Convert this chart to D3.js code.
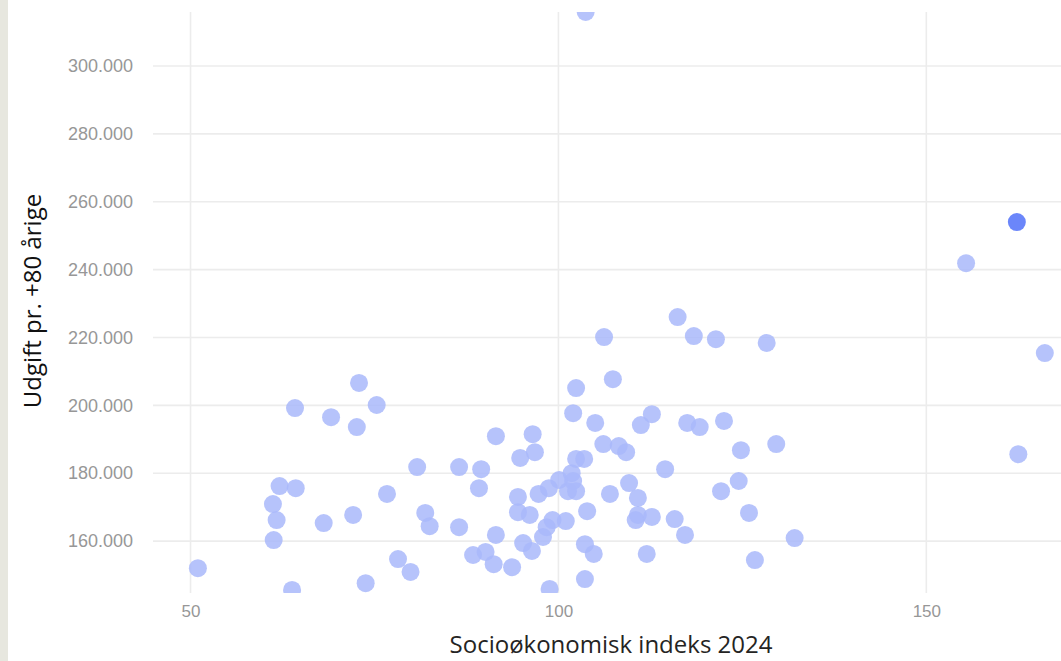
<!DOCTYPE html>
<html>
<head>
<meta charset="utf-8">
<script src="https://cdn.jsdelivr.net/npm/d3@7"></script>
<style>
  body { margin: 0; background: #fff; overflow: hidden; }
  svg { display: block; font-family: "Segoe UI", "Open Sans", sans-serif; }
</style>
</head>
<body>
<svg id="chart"></svg>
<script>
// socioøkonomisk indeks 2024 (x) og udgift pr. +80 årige (y) pr. kommune
var indeks = [51.0, 61.2, 61.3, 61.7, 62.1, 63.8, 64.2, 64.3, 68.1, 69.1,
    72.1, 72.6, 72.9, 73.8, 75.3, 76.7, 78.2, 79.9, 80.8, 81.9,
    82.5, 86.5, 86.5, 88.4, 89.5, 89.2, 90.1, 91.2, 91.5, 91.5,
    93.7, 94.5, 94.5, 94.8, 95.2, 96.1, 96.4, 96.5, 96.8, 97.3,
    97.9, 98.4, 98.7, 98.8, 99.2, 100.1, 101.0, 101.3, 101.8, 102.0,
    102.4, 102.4, 103.5, 102.0, 102.4, 103.6, 103.6, 103.9, 104.8, 105.0,
    106.1, 106.2, 107.0, 107.4, 108.2, 109.2, 109.6, 110.5, 110.8, 110.8,
    111.2, 112.0, 112.7, 112.7, 114.5, 115.8, 116.2, 117.2, 117.5, 118.4,
    119.2, 121.4, 122.1, 122.5, 124.5, 124.8, 125.9, 126.7, 128.3, 129.6,
    132.1, 155.4, 162.5, 166.1, 103.7, 162.3];
var udgift = [152000, 170900, 160300, 166200, 176200, 145600, 199200, 175600, 165300, 196500,
    167700, 193600, 206600, 147600, 200100, 173900, 154700, 150900, 181800, 168300,
    164400, 181800, 164100, 155900, 181200, 175600, 156800, 153200, 161800, 190900,
    152300, 173000, 168500, 184500, 159400, 167700, 157100, 191500, 186200, 173900,
    161200, 164100, 175600, 145900, 166200, 178000, 165900, 174700, 180000, 177700,
    174700, 184200, 184200, 197700, 205100, 159100, 148800, 168800, 156200, 194800,
    188600, 220100, 173900, 207700, 188000, 186200, 177100, 166200, 167700, 172700,
    194200, 156200, 167100, 197400, 181200, 166500, 226000, 161800, 194800, 220400,
    193600, 219500, 174700, 195400, 177700, 186800, 168300, 154400, 218400, 188600,
    160900, 241900, 185600, 215400, 315900, 254000];
// den valgte kommune (sidste punkt) er fremhævet
var valgt = [95];

var xTicks = [50, 100, 150];
var yTicks = [160000, 180000, 200000, 220000, 240000, 260000, 280000, 300000];
var xLabel = "Socioøkonomisk indeks 2024";
var yLabel = "Udgift pr. +80 årige";

var data = indeks.map(function (v, i) {
    return {x: v, y: udgift[i], sel: valgt.indexOf(i) >= 0};
});
// tegn de fremhævede punkter sidst
data.sort(function (a, b) { return a.sel - b.sel; });

var W = 1061, H = 661;
var margin = {top: 12, right: 0, bottom: 68, left: 153},
    width = W - margin.left - margin.right,
    height = H - margin.top - margin.bottom;

var svg = d3.select("#chart")
    .attr("width", W)
    .attr("height", H);

// beige kant til venstre
svg.append("rect")
    .attr("x", 0).attr("y", 0)
    .attr("width", 8).attr("height", H)
    .attr("fill", "#e7e7df");

var g = svg.append("g")
    .attr("transform", "translate(" + margin.left + "," + margin.top + ")");

var x = d3.scaleLinear()
    .domain([44.9, 168.3])
    .range([0, width]);

var y = d3.scaleLinear()
    .domain([144700, 315900])
    .range([height, 0]);

g.append("defs").append("clipPath")
    .attr("id", "plot-clip")
    .append("rect")
    .attr("width", width)
    .attr("height", height);

// gitterlinjer
g.append("g")
    .selectAll("line")
    .data(yTicks)
    .enter()
    .append("line")
    .attr("x1", 0)
    .attr("x2", width)
    .attr("y1", function (d) { return y(d); })
    .attr("y2", function (d) { return y(d); })
    .attr("stroke", "#ececec")
    .attr("stroke-width", 1.6);

g.append("g")
    .selectAll("line")
    .data(xTicks)
    .enter()
    .append("line")
    .attr("x1", function (d) { return x(d); })
    .attr("x2", function (d) { return x(d); })
    .attr("y1", 0)
    .attr("y2", height)
    .attr("stroke", "#ececec")
    .attr("stroke-width", 1.6);

// akser
var fmt = function (d) { return d3.format(",")(d).replace(/,/g, "."); };

var yAxis = g.append("g")
    .attr("transform", "translate(-20,0)")
    .call(d3.axisLeft(y).tickValues(yTicks).tickFormat(fmt).tickSize(0).tickPadding(0));
yAxis.select(".domain").remove();
yAxis.selectAll("text")
    .attr("fill", "#979797")
    .style("font-size", "18px");

var xAxis = g.append("g")
    .attr("transform", "translate(0," + height + ")")
    .call(d3.axisBottom(x).tickValues(xTicks).tickFormat(d3.format("d")).tickSize(0).tickPadding(12));
xAxis.select(".domain").remove();
xAxis.selectAll("text")
    .attr("fill", "#979797")
    .style("font-size", "17px");

svg.append("text")
    .attr("x", 611)
    .attr("y", 653)
    .attr("text-anchor", "middle")
    .attr("fill", "#252423")
    .style("font-size", "24px")
    .text(xLabel);

svg.append("text")
    .attr("transform", "translate(41,301) rotate(-90)")
    .attr("text-anchor", "middle")
    .attr("fill", "#111")
    .style("font-size", "24px")
    .text(yLabel);

// punkter
g.append("g")
    .attr("clip-path", "url(#plot-clip)")
    .selectAll("circle")
    .data(data)
    .enter()
    .append("circle")
    .attr("cx", function (d) { return x(d.x); })
    .attr("cy", function (d) { return y(d.y); })
    .attr("r", 9)
    .attr("fill", function (d) { return d.sel ? "#6b86fa" : "#a9b8fa"; })
    .attr("fill-opacity", function (d) { return d.sel ? 1 : 0.85; });
</script>
</body>
</html>
